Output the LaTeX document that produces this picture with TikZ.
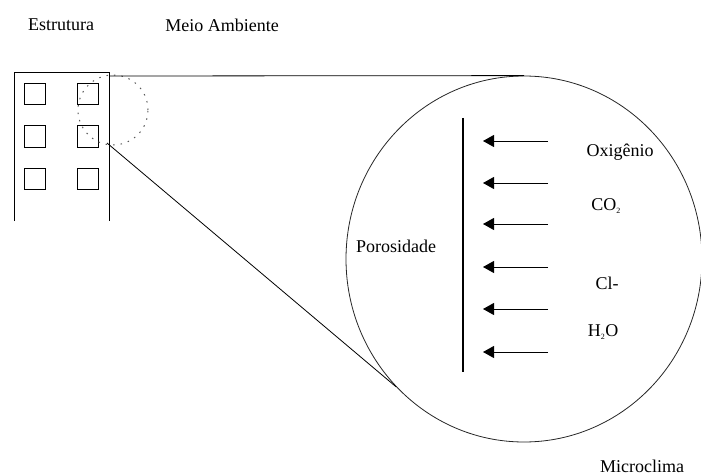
\documentclass[tikz,border=0pt]{standalone}
\usepackage{fontspec}
\setmainfont{Liberation Serif}
\usetikzlibrary{arrows.meta,shapes.geometric}

\tikzset{
  label text/.style={inner sep=0pt, font=\fontsize{18}{21}\selectfont},
  window/.style={draw, line width=1pt, minimum size=21pt, inner sep=0pt},
  wall/.style={line width=1pt},
  thin line/.style={line width=0.8pt},
  flux/.style={line width=1pt, -{Triangle[length=11pt,width=12pt]}},
}
\newcommand{\subtwo}{\textsubscript{\fontsize{8}{9}\selectfont 2}}

\begin{document}
\begin{tikzpicture}[x=1pt,y=-1pt]
  \useasboundingbox (0,0) rectangle (701,476);

  % headings
  \node[label text] (est) at (61,25) {Estrutura};
  \node[label text] (meio) at (222,25) {Meio Ambiente};

  % building outline, open at the bottom
  \coordinate (bl) at (14,221);
  \coordinate (tl) at (14,73);
  \coordinate (tr) at (109,73);
  \coordinate (br) at (109,221);
  \draw[wall] (bl) -- (tl) -- (tr) -- (br);

  % windows
  \node[window] (w11) at (34.5,94) {};
  \node[window] (w12) at (88,94) {};
  \node[window] (w21) at (34.5,136.5) {};
  \node[window] (w22) at (88,136.5) {};
  \node[window] (w31) at (34.5,179) {};
  \node[window] (w32) at (88,179) {};

  % dotted detail circle
  \node[draw, circle, minimum size=70pt, inner sep=0pt, line width=1pt,
        dash pattern=on 1.5pt off 6pt, gray!70!black] (det) at (113,110) {};

  % enlarged microclimate
  \node[draw, ellipse, minimum width=356pt, minimum height=366pt, inner sep=0pt,
        thin line, black!85] (mc) at (524,259) {};

  % projection lines from the detail to the enlargement
  \coordinate (pt) at (110,76);
  \coordinate (pb) at (107,143);
  \draw[thin line] (pt) -- (mc.north);
  \draw[thin line] (pb) -- (mc.225);

  % concrete surface
  \coordinate (st) at (463,118);
  \coordinate (sb) at (463,372);
  \draw[line width=1.1pt] (st) -- (sb);

  % incoming agents
  \foreach \i/\y in {1/141,2/183,3/224,4/267,5/309,6/352}{
    \coordinate (a\i) at (548,\y);
    \coordinate (b\i) at (483,\y);
    \draw[flux] (a\i) -- (b\i);
  }

  % labels
  \node[label text] (por) at (396,246) {Porosidade};
  \node[label text] (oxi) at (620,152) {Oxigênio};
  \node[label text] (co2) at (606,206) {CO\subtwo};
  \node[label text] (cl) at (607,283) {Cl-};
  \node[label text] (h2o) at (603,332) {H\subtwo O};
  \node[label text] (micro) at (642,466) {Microclima};
\end{tikzpicture}
\end{document}
